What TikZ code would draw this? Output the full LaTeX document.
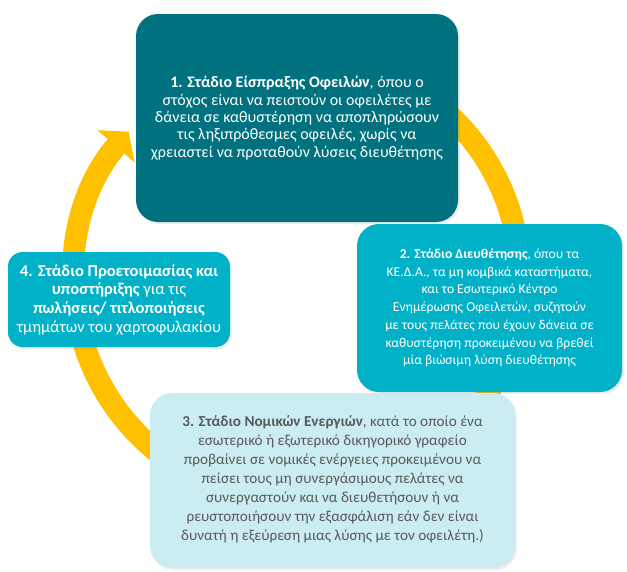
\documentclass[tikz,border=0pt]{standalone}
\usepackage{fontspec}
\setmainfont{Carlito}
\usepackage{tikz}
\usetikzlibrary{arrows.meta, shadows}
\definecolor{petrol}{HTML}{00717E}
\definecolor{cyanbox}{HTML}{00B1C8}
\definecolor{lightbox}{HTML}{CBEDF1}
\definecolor{ringyellow}{HTML}{FFC000}
\definecolor{graytext}{HTML}{595959}
\tikzset{
    stage/.style={rounded corners=16.5pt, align=center, inner sep=0pt,
        drop shadow={shadow xshift=1.5pt, shadow yshift=-1.5pt, opacity=0.15}},
    stagedark/.style={stage, fill=petrol, text=white, font=\fontsize{12}{13}\selectfont},
    stagecyan/.style={stage, fill=cyanbox, text=white, font=\fontsize{10.2}{13.3}\selectfont},
    stagelight/.style={stage, fill=lightbox, text=graytext, font=\fontsize{11.4}{14.25}\selectfont},
    ring/.style={draw=ringyellow, line width=16.5pt,
        -{Triangle[length=14.5pt, width=36pt]}},
}

\begin{document}
\begin{tikzpicture}[x=0.75pt, y=0.75pt]
    \useasboundingbox (0,0) rectangle (627,-571);

    % Κυκλικό βέλος
    \coordinate (C) at (297,-278);
    \draw[ring] ([shift={(120:223)}]C) arc[start angle=120, end angle=-221, radius=223];

    % Στάδια
    \node[stagedark, minimum width=241.5pt, minimum height=156pt] (S1) at (297,-118)
        {\textbf{1. Στάδιο Είσπραξης Οφειλών}, όπου ο\\
         στόχος είναι να πειστούν οι οφειλέτες με\\
         δάνεια σε καθυστέρηση να αποπληρώσουν\\
         τις ληξιπρόθεσμες οφειλές, χωρίς να\\
         χρειαστεί να προταθούν λύσεις διευθέτησης};

    \node[stagecyan, minimum width=198.75pt, minimum height=126pt] (S2) at (489.5,-308)
        {\textbf{2. Στάδιο Διευθέτησης}, όπου τα\\
         ΚΕ.Δ.Α., τα μη κομβικά καταστήματα,\\
         και το Εσωτερικό Κέντρο\\
         Ενημέρωσης Οφειλετών, συζητούν\\
         με τους πελάτες που έχουν δάνεια σε\\
         καθυστέρηση προκειμένου να βρεθεί\\
         μία βιώσιμη λύση διευθέτησης};

    \node[stagelight, minimum width=273.75pt, minimum height=131.25pt,
        text depth=3pt] (S3) at (332.5,-480.5)
        {\textbf{3. Στάδιο Νομικών Ενεργιών}, κατά το οποίο ένα\\
         εσωτερικό ή εξωτερικό δικηγορικό γραφείο\\
         προβαίνει σε νομικές ενέργειες προκειμένου να\\
         πείσει τους μη συνεργάσιμους πελάτες να\\
         συνεργαστούν και να διευθετήσουν ή να\\
         ρευστοποιήσουν την εξασφάλιση εάν δεν είναι\\
         δυνατή η εξεύρεση μιας λύσης με τον οφειλέτη.)};

    \node[stagecyan, rounded corners=11pt, minimum width=166.5pt, minimum height=71.25pt,
        font=\fontsize{12.4}{14}\selectfont] (S4) at (119,-299.5)
        {\textbf{4. Στάδιο Προετοιμασίας και}\\
         \textbf{υποστήριξης} για τις\\
         \textbf{πωλήσεις/ τιτλοποιήσεις}\\
         τμημάτων του χαρτοφυλακίου};
\end{tikzpicture}
\end{document}
